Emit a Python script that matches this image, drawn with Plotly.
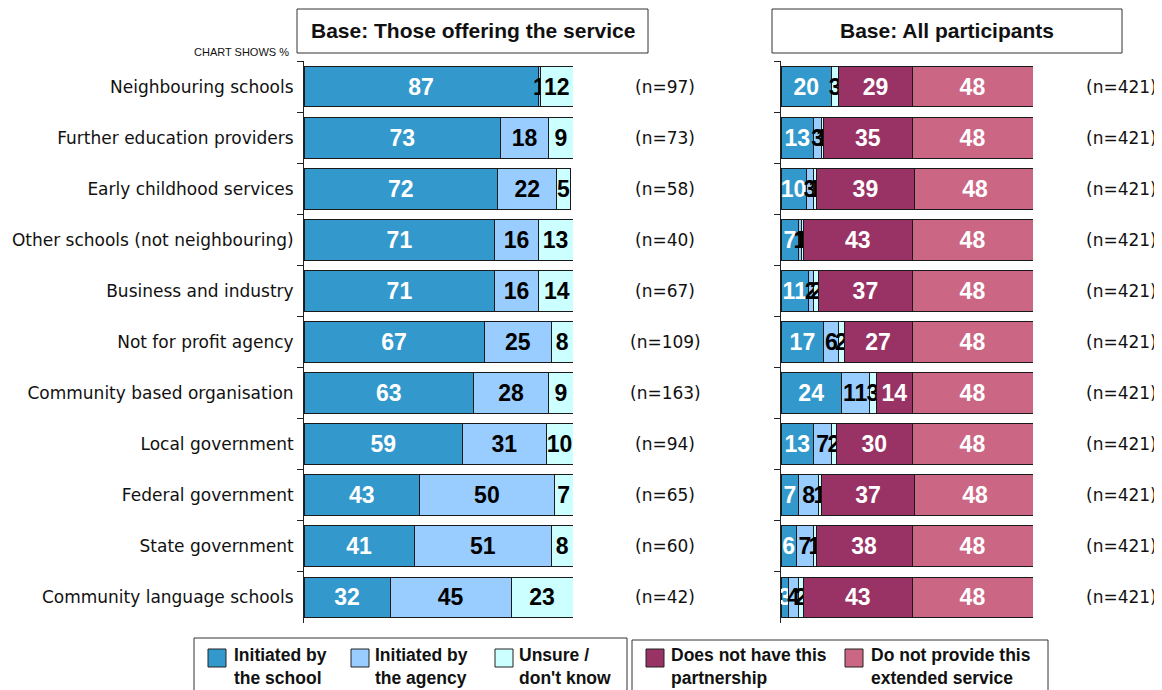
import plotly.graph_objects as go

categories = ["Neighbouring schools", "Further education providers", "Early childhood services",
              "Other schools (not neighbouring)", "Business and industry", "Not for profit agency",
              "Community based organisation", "Local government", "Federal government",
              "State government", "Community language schools"]

# Left panel: base = those offering the service
left_school = [87, 73, 72, 71, 71, 67, 63, 59, 43, 41, 32]
left_agency = [1, 18, 22, 16, 16, 25, 28, 31, 50, 51, 45]
left_unsure = [12, 9, 5, 13, 14, 8, 9, 10, 7, 8, 23]
left_n = ["(n=97)", "(n=73)", "(n=58)", "(n=40)", "(n=67)", "(n=109)", "(n=163)", "(n=94)",
          "(n=65)", "(n=60)", "(n=42)"]

# Right panel: base = all participants
right_school = [20, 13, 10, 7, 11, 17, 24, 13, 7, 6, 3]
right_agency = [0, 3, 3, 1, 2, 6, 11, 7, 8, 7, 4]
right_unsure = [3, 1, 1, 1, 2, 2, 3, 2, 1, 1, 2]
right_nopartner = [29, 35, 39, 43, 37, 27, 14, 30, 37, 38, 43]
right_noservice = [48, 48, 48, 48, 48, 48, 48, 48, 48, 48, 48]
right_n = ["(n=421)"] * 11

series_names = ["Initiated by<br>the school", "Initiated by<br>the agency", "Unsure /<br>don't know",
                "Does not have this<br>partnership", "Do not provide this<br>extended service"]
colors = ["#3399CC", "#99CCFF", "#CCFFFF", "#993366", "#CC6685"]
text_colors = ["white", "black", "black", "white", "white"]

OFF = 8  # page body margin
W, H = 1162 - OFF, 690 - OFF
def px(x):
    return (x - OFF) / W
def py(y):
    return 1 - (y - OFF) / H

FONT = "Liberation Sans, Arial, sans-serif"
FONT2 = "DejaVu Sans, Verdana, sans-serif"
BAR_TXT = 23

fig = go.Figure()

def add_bar(vals, idx, xaxis):
    fig.add_trace(go.Bar(
        y=categories, x=vals, orientation="h",
        marker=dict(color=colors[idx], line=dict(color="#1a1a1a", width=1)),
        text=["<b>%d</b>" % v if v > 0 else "" for v in vals],
        textposition="inside", insidetextanchor="middle", textangle=0,
        textfont=dict(color=text_colors[idx], size=BAR_TXT, family=FONT),
        xaxis=xaxis, yaxis="y" if xaxis == "x" else "y2",
        showlegend=False, hoverinfo="x+name", name=series_names[idx].replace("<br>", " "),
    ))

add_bar(left_school, 0, "x")
add_bar(left_agency, 1, "x")
add_bar(left_unsure, 2, "x")
add_bar(right_school, 0, "x2")
add_bar(right_agency, 1, "x2")
add_bar(right_unsure, 2, "x2")
add_bar(right_nopartner, 3, "x2")
add_bar(right_noservice, 4, "x2")

ydom = [py(623), py(61)]
yaxis_common = dict(
    type="category", categoryorder="array", categoryarray=categories, autorange="reversed",
    showline=True, linecolor="#222", linewidth=1, ticks="outside", tickson="boundaries",
    ticklen=6, tickcolor="#222", showgrid=False, domain=ydom, fixedrange=True,
)

fig.update_layout(
    width=W, height=H, margin=dict(l=0, r=0, t=0, b=0),
    paper_bgcolor="white", plot_bgcolor="white",
    barmode="stack", bargap=0.2,
    font=dict(family=FONT, color="#111"),
    uniformtext=dict(minsize=BAR_TXT, mode="show"),
    xaxis=dict(domain=[px(304), px(573)], range=[0, 100], visible=False, fixedrange=True),
    xaxis2=dict(domain=[px(781), px(1033)], range=[0, 100], visible=False, fixedrange=True),
    yaxis=dict(**yaxis_common, anchor="x", ticklabelstandoff=6,
               tickfont=dict(size=17, family=FONT2, color="#111")),
    yaxis2=dict(**yaxis_common, anchor="x2", showticklabels=False),
)

ann = []
shapes = []
# n labels
for c, n in zip(categories, left_n):
    ann.append(dict(x=px(665), y=c, xref="paper", yref="y", text=n, showarrow=False,
                    xanchor="center", font=dict(size=17, family=FONT2, color="#111")))
for c, n in zip(categories, right_n):
    ann.append(dict(x=px(1121), y=c, xref="paper", yref="y2", text=n, showarrow=False,
                    xanchor="center", font=dict(size=17, family=FONT2, color="#111")))

# Title boxes
for (x0, x1, txt) in [(297, 648, "Base: Those offering the service"), (772, 1122, "Base: All participants")]:
    shapes.append(dict(type="rect", xref="paper", yref="paper", x0=px(x0), x1=px(x1), y0=py(53), y1=py(9),
                       line=dict(color="#333", width=1), fillcolor="white"))
    ann.append(dict(x=px((x0 + x1) / 2), y=py(31), xref="paper", yref="paper", text="<b>%s</b>" % txt,
                    showarrow=False, xanchor="center", yanchor="middle",
                    font=dict(size=21, family=FONT, color="#111")))

ann.append(dict(x=px(291), y=py(52), xref="paper", yref="paper", text="CHART SHOWS %", showarrow=False,
                xanchor="right", yanchor="middle", font=dict(size=11, family=FONT, color="#111")))

# Legend boxes
shapes.append(dict(type="rect", xref="paper", yref="paper", x0=px(194), x1=px(627), y0=py(695), y1=py(638),
                   line=dict(color="#333", width=1), fillcolor="white"))
shapes.append(dict(type="rect", xref="paper", yref="paper", x0=px(632), x1=px(1048), y0=py(695), y1=py(640),
                   line=dict(color="#333", width=1), fillcolor="white"))
legend_pos = [(208, 232), (351, 373), (495, 517), (646, 669), (845, 869)]
for i, (sx, tx) in enumerate(legend_pos):
    shapes.append(dict(type="rect", xref="paper", yref="paper", x0=px(sx), x1=px(sx + 18),
                       y0=py(667), y1=py(649), line=dict(color="#222", width=1), fillcolor=colors[i]))
    ann.append(dict(x=px(tx), y=py(643), xref="paper", yref="paper", text="<b>%s</b>" % series_names[i],
                    showarrow=False, xanchor="left", yanchor="top", align="left",
                    font=dict(size=17.5, family=FONT, color="#111")))

fig.update_layout(annotations=ann, shapes=shapes)
fig.write_html("out.html")
